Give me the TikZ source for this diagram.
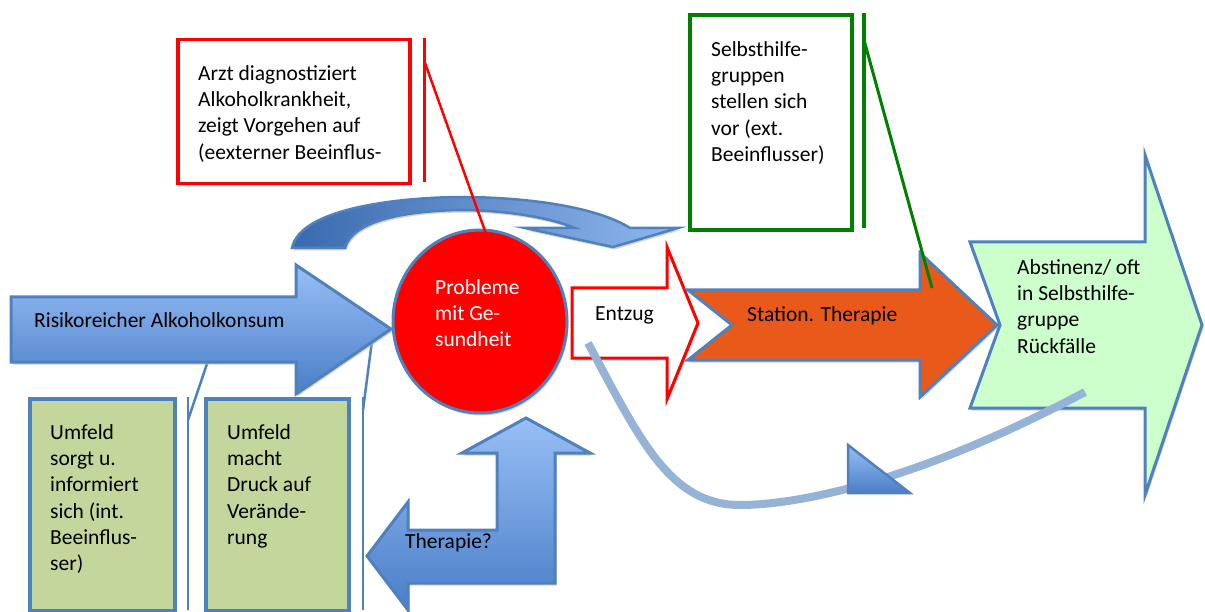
\documentclass[tikz,border=0pt]{standalone}
\usepackage{fontspec}
\setmainfont{Carlito}
\usetikzlibrary{shadows,shapes.geometric}
\definecolor{bstroke}{HTML}{4F81BD}
\definecolor{gtop}{HTML}{98BFF5}
\definecolor{gbot}{HTML}{4A7EC8}
\definecolor{cdark}{HTML}{3A6AAE}
\definecolor{clight}{HTML}{8FB7EE}
\definecolor{rred}{HTML}{FF0000}
\definecolor{ggreen}{HTML}{008000}
\definecolor{boxgreen}{HTML}{C3D69B}
\definecolor{lightgreen}{HTML}{CCFFCC}
\definecolor{orangefill}{HTML}{E8591A}
\definecolor{curveblue}{HTML}{95B3D7}
\tikzset{
  shd/.style={drop shadow={shadow xshift=1.5pt, shadow yshift=-2.5pt, fill=black!25, opacity=0.7}},
  bluearrow/.style={shd, top color=gtop, bottom color=gbot, draw=bstroke, line width=3pt, line join=miter},
  txt/.style={font=\fontsize{21.5}{26.3}\selectfont, align=left, inner sep=0pt, text=black},
  redline/.style={draw=rred, line width=3pt},
  greenline/.style={draw=ggreen, line width=3.5pt},
  blueline/.style={draw=bstroke, line width=2.5pt},
}
\begin{document}
\begin{tikzpicture}[x=1pt,y=-1pt]
\useasboundingbox (0,0) rectangle (1205,612);

% ---- callout pointers of the bottom boxes (behind arrow)
\coordinate (p1a) at (188,420);
\coordinate (p1b) at (211,352);
\coordinate (p2a) at (363,410);
\coordinate (p2b) at (373,333);
\draw[blueline] (188,397) -- (188,610);
\draw[blueline] (363,397) -- (363,610);
\draw[blueline] (p1a) -- (p1b);
\draw[blueline] (p2a) -- (p2b);

% ---- big blue arrow
\path[bluearrow] (11,297) -- (296,297) -- (296,265) -- (391,329) -- (296,394) -- (296,362) -- (11,362) -- cycle;
\node[txt, anchor=base west] (risk) at (34,328) {Risikoreicher Alkoholkonsum};

% ---- curved top arrow
\path[shd, left color=cdark, right color=clight, draw=bstroke, line width=2.5pt, line join=miter]
  (292,248) .. controls (300,208) and (400,197) .. (465,197)
  .. controls (550,198) and (605,212) .. (630,228)
  -- (678,228) -- (613,247) -- (525,228) -- (575,228)
  .. controls (545,216) and (500,210) .. (460,210)
  .. controls (400,211) and (352,222) .. (345,248) -- cycle;

% ---- circle
\node[shd, ellipse, minimum width=174pt, minimum height=183pt, fill=rred, draw=bstroke, line width=3pt, inner sep=0pt] (circ) at (480,321.5) {};
\node[txt, anchor=north west, text=white] (probl) at (435,279) {Probleme\\mit Ge-\\sundheit};

% ---- Arzt callout
\node[shd, draw=rred, line width=3.5pt, fill=white, minimum width=232pt, minimum height=144pt, inner sep=0pt, anchor=north west] (arztbox) at (176,38) {};
\node[txt, anchor=north west] (arzt) at (198,65) {Arzt diagnostiziert\\Alkoholkrankheit,\\zeigt Vorgehen auf\\(eexterner Beeinflus-};
\draw[redline] (424,38) -- (424,182);
\coordinate (a1) at (424,60);
\coordinate (a2) at (490,245);
\draw[draw=rred, line width=2.5pt] (a1) -- (a2);

% ---- Entzug arrow
\path[shd, fill=white, draw=rred, line width=3pt, line join=miter] (572,288) -- (667,288) -- (667,247) -- (698,323) -- (667,399) -- (667,358) -- (572,358) -- cycle;
\node[txt, anchor=base west] (entzug) at (595,320) {Entzug};

% ---- Station. Therapie arrow
\path[shd, fill=orangefill, draw=bstroke, line width=3pt, line join=miter] (688,290) -- (920,290) -- (920,253) -- (997,325) -- (920,397) -- (920,360) -- (688,360) -- (732,325) -- cycle;
\node[txt, anchor=base west] (station) at (747,322) {Station. Therapie};

% ---- Abstinenz arrow
\path[shd, fill=lightgreen, draw=bstroke, line width=3pt, line join=miter] (970,242) -- (1145,242) -- (1145,155) -- (1202,325) -- (1145,495) -- (1145,408) -- (970,408) -- (1000,325) -- cycle;
\node[txt, anchor=north west] (abst) at (1017,259) {Abstinenz/ oft\\in Selbsthilfe-\\gruppe\\Rückfälle};

% ---- Selbsthilfe callout
\node[shd, draw=ggreen, line width=4pt, fill=white, minimum width=162pt, minimum height=215pt, inner sep=0pt, anchor=north west] (shbox) at (688,13) {};
\node[txt, anchor=north west] (sh) at (711,41) {Selbsthilfe-\\gruppen\\stellen sich\\vor (ext.\\Beeinflusser)};
\draw[greenline] (864,13) -- (864,228);
\coordinate (g1) at (864,40);
\coordinate (g2) at (932,288);
\draw[draw=ggreen, line width=3pt] (g1) -- (g2);

% ---- relapse curve
\coordinate (c1) at (588,343);
\coordinate (c2) at (740,505);
\coordinate (c3) at (1085,392);
\draw[curveblue, line width=8pt] (c1) .. controls (640,440) and (670,505) .. (c2) .. controls (800,505) and (920,480) .. (c3);
\path[top color=gtop, bottom color=gbot, draw=bstroke, line width=2.5pt, line join=miter] (848,445) -- (848,493) -- (910,493) -- cycle;

% ---- bottom boxes
\node[shd, draw=bstroke, line width=3.5pt, fill=boxgreen, minimum width=145pt, minimum height=212pt, inner sep=0pt, anchor=north west] (box1) at (28,397) {};
\node[txt, anchor=north west] (t1) at (50,424) {Umfeld\\sorgt u.\\informiert\\sich (int.\\Beeinflus-\\ser)};
\node[shd, draw=bstroke, line width=3.5pt, fill=boxgreen, minimum width=143pt, minimum height=212pt, inner sep=0pt, anchor=north west] (box2) at (204,397) {};
\node[txt, anchor=north west] (t2) at (227,424) {Umfeld\\macht\\Druck auf\\Verände-\\rung};

% ---- Therapie? bent arrow
\path[bluearrow] (526,418) -- (590,453) -- (555,453) -- (555,583) -- (408,583) -- (408,610) -- (367,556) -- (408,502) -- (408,530) -- (497,530) -- (497,453) -- (462,453) -- cycle;
\node[txt, anchor=base west] (ther) at (405,548) {Therapie?};
\end{tikzpicture}
\end{document}
